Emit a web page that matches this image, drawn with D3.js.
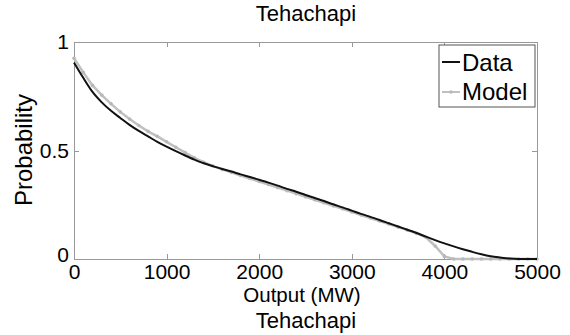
<!DOCTYPE html>
<html lang="en">
  <head>
    <meta charset="utf-8">
    <title>Tehachapi</title>
    <script src="https://cdn.jsdelivr.net/npm/d3@7"></script>
    <style>
body { margin: 0; background: #fff; }
svg text { font-family: "Liberation Sans", Arial, sans-serif; fill: #000; }
.axis path, .axis line { stroke: #999; shape-rendering: crispEdges; }
.axis text { font-size: 21px; }
    </style>
  </head>
  <body>
    <div id="chart"></div>
    <script>

// output in MW, 100 MW steps
var output = d3.range(0, 5001, 100);

var dataProb = [0.905, 0.835, 0.770, 0.722, 0.683, 0.650, 0.618, 0.590, 0.565, 0.540,
  0.518, 0.497, 0.477, 0.458, 0.441, 0.428, 0.415, 0.403, 0.390, 0.378,
  0.365, 0.352, 0.338, 0.323, 0.310, 0.295, 0.281, 0.267, 0.252, 0.238,
  0.223, 0.208, 0.194, 0.180, 0.165, 0.150, 0.135, 0.120, 0.103, 0.087,
  0.072, 0.058, 0.045, 0.033, 0.022, 0.013, 0.007, 0.002, 0.000, 0.000, 0.000];

var modelProb = [0.925, 0.860, 0.800, 0.755, 0.715, 0.678, 0.645, 0.615, 0.588, 0.565,
  0.540, 0.515, 0.490, 0.466, 0.446, 0.428, 0.413, 0.399, 0.385, 0.371,
  0.357, 0.343, 0.329, 0.315, 0.301, 0.287, 0.273, 0.259, 0.245, 0.231,
  0.217, 0.203, 0.189, 0.175, 0.161, 0.147, 0.133, 0.118, 0.100, 0.060,
  0.012, 0.000, 0.000, 0.000, 0.000, 0.000, 0.000, 0.000, 0.000, 0.000, 0.000];

var xTicks = [0, 1000, 2000, 3000, 4000, 5000];
var yTicks = [0, 0.5, 1];
var yTickLabels = ["0", "0.5", "1"];

var width = 570, height = 335;
var margin = {top: 42, right: 33, bottom: 76, left: 74};
var w = width - margin.left - margin.right,
    h = height - margin.top - margin.bottom;

var svg = d3.select("#chart").append("svg")
    .attr("width", width)
    .attr("height", height);

var g = svg.append("g")
    .attr("transform", "translate(" + margin.left + "," + margin.top + ")");

var x = d3.scaleLinear().domain([0, 5000]).range([0, w]);
var y = d3.scaleLinear().domain([0, 1]).range([h, 0]);

// axes, ticks pointing inward (matlab style)
g.append("g").attr("class", "axis")
    .attr("transform", "translate(0," + h + ")")
    .call(d3.axisBottom(x).tickValues(xTicks).tickSizeInner(-5).tickSizeOuter(0).tickPadding(5).tickFormat(d3.format("d")));
g.append("g").attr("class", "axis")
    .call(d3.axisTop(x).tickValues(xTicks).tickSizeInner(-5).tickSizeOuter(0).tickFormat(""));
var yAxis = g.append("g").attr("class", "axis")
    .call(d3.axisLeft(y).tickValues(yTicks).tickSizeInner(-5).tickSizeOuter(0).tickPadding(5)
      .tickFormat(function(d, i) { return yTickLabels[i]; }));
g.append("g").attr("class", "axis")
    .attr("transform", "translate(" + w + ",0)")
    .call(d3.axisRight(y).tickValues(yTicks).tickSizeInner(-5).tickSizeOuter(0).tickFormat(""));

// the y "0" sits a bit higher, like in the matlab figure
yAxis.selectAll("text").filter(function(d) { return d === 0; })
    .attr("dy", "0.12em");

var line = d3.line()
    .x(function(d) { return x(d[0]); })
    .y(function(d) { return y(d[1]); });

var modelPts = output.map(function(o, i) { return [o, modelProb[i]]; });
var dataPts = output.map(function(o, i) { return [o, dataProb[i]]; });

// Model: grey line with small dots
g.append("path")
    .datum(modelPts)
    .attr("d", line)
    .attr("fill", "none")
    .attr("stroke", "#c0c0c0")
    .attr("stroke-width", 2.5);
g.selectAll(".mdot").data(modelPts).enter().append("circle")
    .attr("class", "mdot")
    .attr("cx", function(d) { return x(d[0]); })
    .attr("cy", function(d) { return y(d[1]); })
    .attr("r", 1.8)
    .attr("fill", "#b8b8b8");

// Data: black line
g.append("path")
    .datum(dataPts)
    .attr("d", d3.line().curve(d3.curveMonotoneX)
      .x(function(d) { return x(d[0]); })
      .y(function(d) { return y(d[1]); }))
    .attr("fill", "none")
    .attr("stroke", "#111")
    .attr("stroke-width", 2);

// Legend
var leg = svg.append("g").attr("transform", "translate(439,45)");
leg.append("rect")
    .attr("width", 96).attr("height", 62)
    .attr("fill", "#fff").attr("stroke", "#555").attr("stroke-width", 1);
leg.append("line").attr("x1", 3).attr("x2", 21).attr("y1", 17).attr("y2", 17)
    .attr("stroke", "#111").attr("stroke-width", 2);
leg.append("line").attr("x1", 3).attr("x2", 21).attr("y1", 47).attr("y2", 47)
    .attr("stroke", "#c0c0c0").attr("stroke-width", 2);
leg.append("circle").attr("cx", 12).attr("cy", 47).attr("r", 1.8).attr("fill", "#b8b8b8");
leg.append("text").attr("x", 23).attr("y", 26).style("font-size", "24px").text("Data");
leg.append("text").attr("x", 23).attr("y", 55).style("font-size", "24px").text("Model");

// titles
svg.append("text").attr("x", 306).attr("y", 21)
    .attr("text-anchor", "middle").style("font-size", "22px").text("Tehachapi");
svg.append("text").attr("x", 302).attr("y", 302)
    .attr("text-anchor", "middle").style("font-size", "20.5px").text("Output (MW)");
svg.append("text").attr("x", 306).attr("y", 328)
    .attr("text-anchor", "middle").style("font-size", "22px").text("Tehachapi");
svg.append("text")
    .attr("transform", "translate(32,150) rotate(-90)")
    .attr("text-anchor", "middle").style("font-size", "24px").text("Probability");

    </script>
  </body>
</html>
